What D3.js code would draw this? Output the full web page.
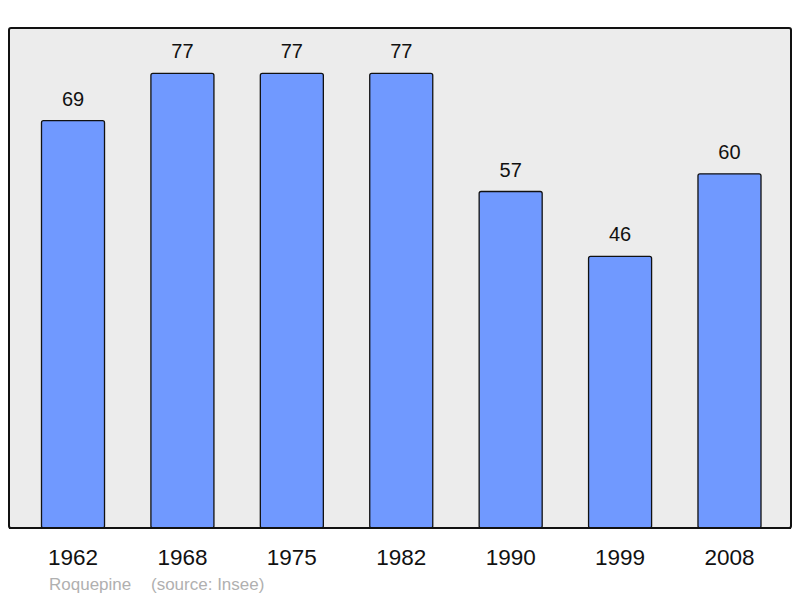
<!DOCTYPE html>
<html>
<head>
<meta charset="utf-8">
<script src="https://cdn.jsdelivr.net/npm/d3@7"></script>
<style>
  body { margin: 0; background: #fff; }
  text { font-family: "Liberation Sans", Arial, sans-serif; }
</style>
</head>
<body>
<div id="chart"></div>
<script>
// Daten
const years  = ['1962', '1968', '1975', '1982', '1990', '1999', '2008'];
const values = [69, 77, 77, 77, 57, 46, 60];
const commune = 'Roquepine';
const source  = '(source: Insee)';

const W = 800, H = 598;
const panel = { x0: 9, y0: 28, x1: 791, y1: 528 };

const svg = d3.select('#chart').append('svg')
  .attr('width', W).attr('height', H);

// Skalen
const x = d3.scaleBand()
  .domain(years)
  .range([18.3, 784.2])
  .paddingInner(0.424)
  .paddingOuter(0.212);

const y = d3.scaleLinear()
  .domain([0, d3.max(values) * 1.1])
  .range([panel.y1, panel.y0]);

// Hintergrund
svg.append('rect')
  .attr('x', panel.x0).attr('y', panel.y0)
  .attr('width', panel.x1 - panel.x0)
  .attr('height', panel.y1 - panel.y0)
  .attr('rx', 2)
  .attr('fill', '#ececec')
  .attr('stroke', '#111')
  .attr('stroke-width', 2);

// Balken
const data = years.map((yr, i) => ({ yr, v: values[i] }));

svg.selectAll('rect.bar')
  .data(data)
  .enter().append('rect')
    .attr('class', 'bar')
    .attr('x', d => x(d.yr))
    .attr('y', d => y(d.v))
    .attr('width', x.bandwidth())
    .attr('height', d => y(0) - y(d.v))
    .attr('rx', 2)
    .attr('fill', '#7099ff')
    .attr('stroke', '#111')
    .attr('stroke-width', 1.3);

// Werte
svg.selectAll('text.val')
  .data(data)
  .enter().append('text')
    .attr('class', 'val')
    .attr('x', d => x(d.yr) + x.bandwidth() / 2)
    .attr('y', d => y(d.v) - 15)
    .attr('text-anchor', 'middle')
    .attr('font-size', 20)
    .attr('fill', '#111')
    .text(d => d.v);

// Grundlinie nochmal drüber
svg.append('line')
  .attr('x1', panel.x0).attr('x2', panel.x1)
  .attr('y1', panel.y1).attr('y2', panel.y1)
  .attr('stroke', '#111').attr('stroke-width', 2);

// x-Achse (nur Beschriftung)
const ax = svg.append('g')
  .attr('transform', `translate(0,${panel.y1})`)
  .call(d3.axisBottom(x).tickSize(0).tickPadding(0));
ax.select('.domain').remove();
ax.selectAll('text')
  .attr('dy', null)
  .attr('y', 37)
  .attr('font-size', 22.5)
  .attr('fill', '#111')
  .style('font-family', '"Liberation Sans", Arial, sans-serif');

// Fußzeile
svg.append('text')
  .attr('x', 49).attr('y', 590)
  .attr('font-size', 17)
  .attr('fill', '#b0b0b0')
  .text(commune);
svg.append('text')
  .attr('x', 151).attr('y', 590)
  .attr('font-size', 17)
  .attr('fill', '#b0b0b0')
  .text(source);
</script>
</body>
</html>
